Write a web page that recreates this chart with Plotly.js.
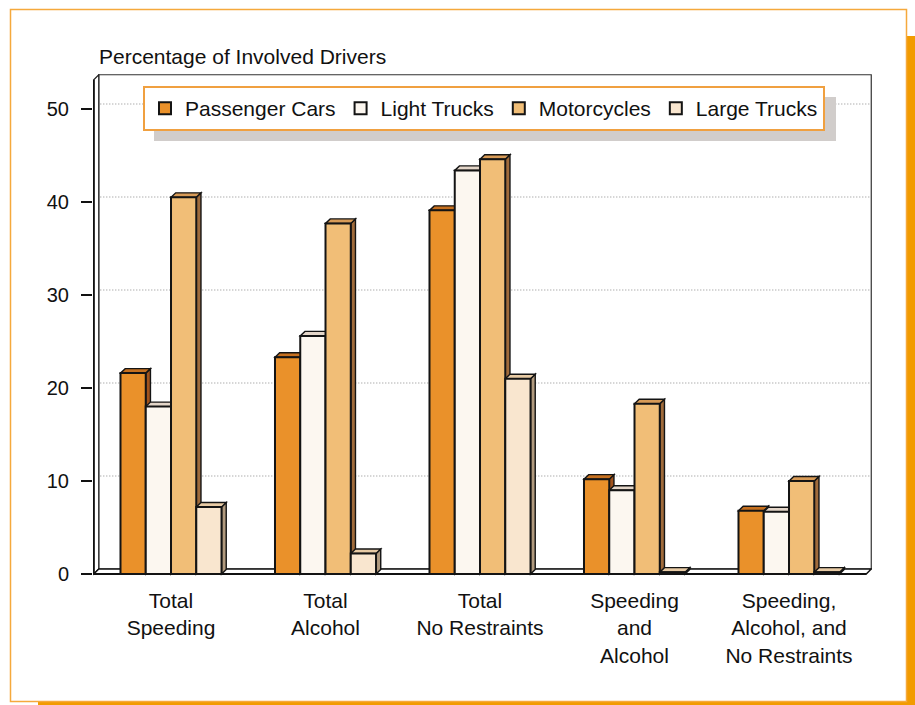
<!DOCTYPE html>
<html><head><meta charset="utf-8">
<script src="https://cdn.plot.ly/plotly-3.0.1.min.js"></script>
<style>html,body{margin:0;padding:0;background:#fff}#chart{width:915px;height:705px}</style>
</head><body><div id="chart"></div>
<script>
// ---- data ----
const categories = ['Total<br>Speeding', 'Total<br>Alcohol', 'Total<br>No Restraints', 'Speeding<br>and<br>Alcohol', 'Speeding,<br>Alcohol, and<br>No Restraints'];
const seriesNames = ['Passenger Cars', 'Light Trucks', 'Motorcycles', 'Large Trucks'];
const passengerCars = [21.6, 23.3, 39.1, 10.2, 6.8];
const lightTrucks   = [18.0, 25.6, 43.4, 9.0, 6.7];
const motorcycles   = [40.5, 37.7, 44.6, 18.3, 10.0];
const largeTrucks   = [7.2, 2.2, 21.0, 0.2, 0.2];
const yTickVals = [0, 10, 20, 30, 40, 50];
const yTitle = 'Percentage of Involved Drivers';

// ---- style ----
const frontColors = ['#EA912A', '#FCF7F0', '#F1BE77', '#F9E6CF'];
const topColors   = ['#C6701F', '#E4D6C9', '#D89B57', '#E8CBA5'];
const sideColors  = ['#A0531D', '#C7B6A6', '#A06B3B', '#B19A7E'];
const FONT = 'Liberation Sans, Arial, Helvetica, sans-serif';

const series = [passengerCars, lightTrucks, motorcycles, largeTrucks];
const xIdx = categories.map((_, i) => i);

// plot geometry
const M = {l: 93, r: 43, t: 74, b: 128};
const W = 915, H = 705;
const plotW = W - M.l - M.r, plotH = H - M.t - M.b;
const xRange = [-0.5049, -0.5049 + plotW / 154.5];
const yRange = [-0.3226, -0.3226 + plotH / 9.3];
const px2x = px => (px - M.l) / plotW;
const py2y = py => (H - M.b - py) / plotH;

const bargap = 0.346;
const groupW = 1 - bargap;
const bw = groupW / series.length;
const dxw = 5 / 154.5, dyw = 5 / 9.3;      // wall depth
const dxb = 4.7 / 154.5, dyb = 4.5 / 9.3;  // bar depth
const x0 = -0.5, x1 = categories.length - 0.5;
const yTop = yRange[1] - 0.08;

const traces = series.map((vals, i) => ({
  type: 'bar', name: seriesNames[i], x: xIdx, y: vals,
  marker: {color: frontColors[i], line: {color: '#141414', width: 2}},
  hoverinfo: 'skip'
}));

const shapes = [];
const P = pts => 'M' + pts.map(p => p[0] + ',' + p[1]).join(' L') + ' Z';

// back wall
shapes.push({type: 'path', xref: 'x', yref: 'y', layer: 'below',
  path: P([[x0 + dxw, dyw], [x0 + dxw, yTop], [x1 + dxw, yTop], [x1 + dxw, dyw]]),
  fillcolor: '#ffffff', line: {color: '#333', width: 1.2}});
// gridlines on back wall
yTickVals.slice(1).forEach(v => shapes.push({type: 'line', xref: 'x', yref: 'y', layer: 'below',
  x0: x0 + dxw + 0.01, x1: x1 + dxw, y0: v + dyw, y1: v + dyw,
  line: {color: '#8a8a8a', width: 1, dash: '1px,2px'}}));
// left wall
shapes.push({type: 'path', xref: 'x', yref: 'y', layer: 'below',
  path: P([[x0, 0], [x0, yTop - dyw], [x0 + dxw, yTop], [x0 + dxw, dyw]]),
  fillcolor: '#ffffff', line: {color: '#222', width: 1.2}});
shapes.push({type: 'line', xref: 'x', yref: 'y', layer: 'below',
  x0: x0, x1: x0, y0: 0, y1: yTop - dyw, line: {color: '#111', width: 2}});
// floor
shapes.push({type: 'path', xref: 'x', yref: 'y', layer: 'below',
  path: P([[x0, 0], [x1, 0], [x1 + dxw, dyw], [x0 + dxw, dyw]]),
  fillcolor: '#ffffff', line: {color: '#111', width: 1.5}});
shapes.push({type: 'line', xref: 'x', yref: 'y', layer: 'below',
  x0: x0, x1: x1, y0: 0, y1: 0, line: {color: '#111', width: 2.2}});

// 3D faces of bars (side then top, left to right)
xIdx.forEach(c => {
  series.forEach((vals, i) => {
    const v = vals[c];
    const xl = c - groupW / 2 + i * bw, xr = xl + bw;
    shapes.push({type: 'path', xref: 'x', yref: 'y', layer: 'below',
      path: P([[xr, 0], [xr, v], [xr + dxb, v + dyb], [xr + dxb, dyb]]),
      fillcolor: sideColors[i], line: {color: '#141414', width: 1.4}});
    shapes.push({type: 'path', xref: 'x', yref: 'y', layer: 'below',
      path: P([[xl, v], [xr, v], [xr + dxb, v + dyb], [xl + dxb, v + dyb]]),
      fillcolor: topColors[i], line: {color: '#141414', width: 1.4}});
  });
});

// legend shadow
shapes.push({type: 'rect', xref: 'paper', yref: 'paper', layer: 'above',
  x0: px2x(154), x1: px2x(836), y0: py2y(141), y1: py2y(97),
  fillcolor: '#D1CDCB', line: {width: 0}});
// outer frame + shadow
shapes.push({type: 'rect', xref: 'paper', yref: 'paper', layer: 'below',
  x0: px2x(906.5), x1: px2x(916), y0: py2y(706), y1: py2y(36),
  fillcolor: '#F29B00', line: {width: 0}});
shapes.push({type: 'rect', xref: 'paper', yref: 'paper', layer: 'below',
  x0: px2x(38), x1: px2x(916), y0: py2y(706), y1: py2y(701.5),
  fillcolor: '#F29B00', line: {width: 0}});
shapes.push({type: 'rect', xref: 'paper', yref: 'paper', layer: 'below',
  x0: px2x(10.5), x1: px2x(906.5), y0: py2y(701.5), y1: py2y(9.5),
  fillcolor: 'rgba(0,0,0,0)', line: {color: '#F5A93C', width: 1.5}});

const layout = {
  width: W, height: H,
  margin: M,
  paper_bgcolor: '#ffffff', plot_bgcolor: 'rgba(0,0,0,0)',
  font: {family: FONT, color: '#111'},
  barmode: 'group', bargap: bargap, bargroupgap: 0,
  showlegend: true,
  legend: {orientation: 'h', x: px2x(143), y: py2y(86), xanchor: 'left', yanchor: 'top',
    bgcolor: '#ffffff', bordercolor: '#F0A040', borderwidth: 2,
    font: {family: FONT, size: 21, color: '#111'}, itemwidth: 30, traceorder: 'normal'},
  xaxis: {type: 'linear', range: xRange, tickvals: xIdx, ticktext: categories,
    showgrid: false, zeroline: false, showline: false, ticks: '',
    tickfont: {family: FONT, size: 21, color: '#111'}, ticklabelstandoff: 9, fixedrange: true},
  yaxis: {range: yRange, tickvals: yTickVals, ticks: 'outside', ticklen: 11, tickwidth: 1.5,
    tickcolor: '#111', showgrid: false, zeroline: false, showline: false,
    tickfont: {family: FONT, size: 20, color: '#111'}, ticklabelstandoff: 8, fixedrange: true},
  annotations: [{text: yTitle, xref: 'paper', yref: 'paper', x: px2x(97), y: py2y(57),
    xanchor: 'left', yanchor: 'middle', showarrow: false,
    font: {family: FONT, size: 21, color: '#111'}}],
  shapes: shapes
};

Plotly.newPlot('chart', traces, layout, {displayModeBar: false, staticPlot: true});
</script>
</body></html>
